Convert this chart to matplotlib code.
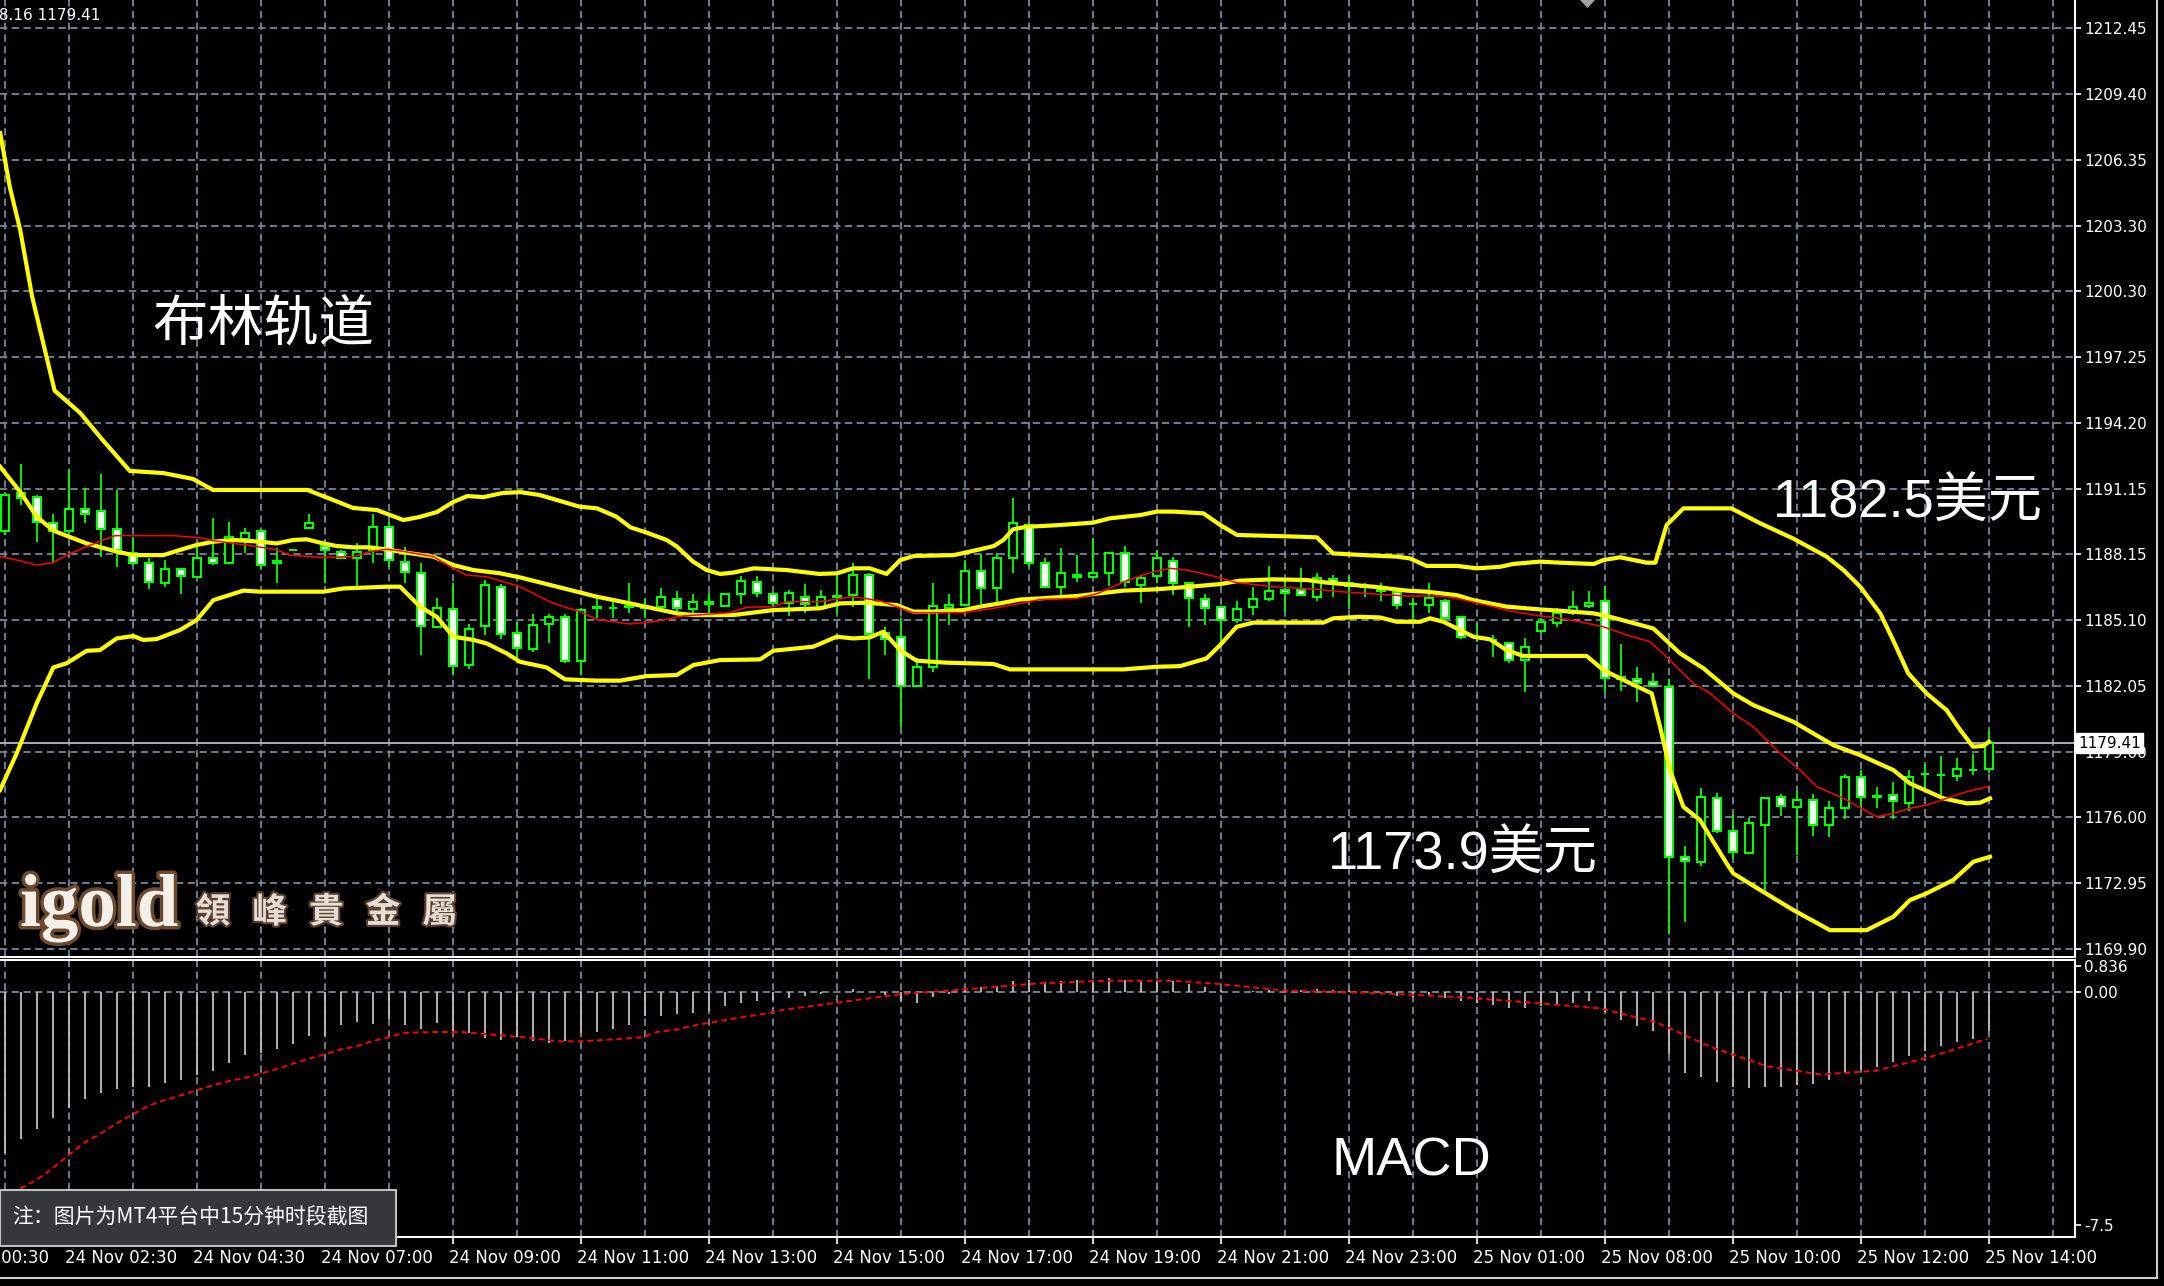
"""
XAUUSD M15 chart with Bollinger bands and MACD (MT4 style screenshot)
"""

import matplotlib
matplotlib.use('Agg')
import matplotlib.pyplot as plt
import matplotlib.patheffects as pe
from matplotlib import transforms
from matplotlib.patches import Rectangle, Polygon
import numpy as np

# ---- candles (15 min bars) ----
opens = [
    1189.23, 1190.95, 1190.77, 1189.60, 1189.23, 1190.21, 1190.15, 1189.31, 1188.18, 1187.72,
    1186.83, 1187.44, 1187.10, 1187.95, 1187.75, 1188.83, 1189.23, 1187.75, 1188.32, 1189.34,
    1188.52, 1188.26, 1187.95, 1188.34, 1189.38, 1187.80, 1187.26, 1184.79, 1185.59, 1183.02,
    1184.82, 1186.64, 1184.51, 1183.74, 1184.90, 1185.25, 1183.22, 1185.64, 1185.67, 1185.72,
    1185.67, 1185.72, 1186.05, 1185.59, 1185.95, 1185.76, 1186.31, 1186.87, 1186.31, 1185.90,
    1186.15, 1185.72, 1186.18, 1186.25, 1187.18, 1184.48, 1184.30, 1182.05, 1182.94, 1185.64,
    1185.79, 1187.36, 1186.56, 1187.95, 1189.49, 1187.75, 1186.64, 1187.10, 1187.10, 1187.29,
    1188.18, 1186.72, 1187.13, 1187.84, 1186.79, 1186.05, 1185.72, 1185.10, 1185.69, 1186.05,
    1186.49, 1186.49, 1186.18, 1186.98, 1186.83, 1186.64, 1186.64, 1186.41, 1185.84, 1185.79,
    1185.99, 1185.22, 1184.25, 1184.18, 1184.05, 1183.25, 1184.61, 1184.95, 1185.44, 1185.75,
    1185.99, 1182.45, 1182.36, 1182.25, 1182.02, 1174.16, 1173.93, 1176.86, 1175.36, 1174.35,
    1175.63, 1176.94, 1176.47, 1176.78, 1175.63, 1176.40, 1177.83, 1176.94, 1177.01, 1176.66,
    1177.98, 1177.94, 1177.89, 1178.17, 1178.20]
highs = [
    1190.98, 1192.31, 1190.88, 1190.00, 1192.03, 1191.19, 1191.85, 1191.11, 1188.95, 1187.95,
    1187.87, 1187.49, 1188.49, 1189.80, 1189.64, 1189.34, 1189.29, 1188.41, 1188.36, 1190.00,
    1188.80, 1188.34, 1188.67, 1190.00, 1189.64, 1188.49, 1187.72, 1186.10, 1186.83, 1184.92,
    1186.95, 1186.76, 1185.02, 1185.38, 1185.38, 1185.38, 1185.64, 1186.18, 1186.02, 1186.83,
    1186.05, 1186.56, 1186.46, 1186.30, 1186.34, 1186.34, 1187.13, 1187.13, 1186.41, 1186.49,
    1186.76, 1186.49, 1187.13, 1187.75, 1187.29, 1184.79, 1185.18, 1183.33, 1186.83, 1186.30,
    1187.87, 1188.15, 1188.21, 1190.72, 1189.64, 1187.95, 1188.41, 1188.10, 1188.87, 1188.26,
    1188.52, 1187.18, 1188.34, 1188.03, 1186.83, 1186.30, 1185.75, 1185.99, 1186.61, 1187.60,
    1186.95, 1187.49, 1187.29, 1187.18, 1187.13, 1186.83, 1186.83, 1186.49, 1186.05, 1186.83,
    1186.05, 1185.29, 1184.98, 1184.41, 1184.10, 1184.25, 1185.18, 1185.64, 1186.46, 1186.46,
    1186.67, 1183.99, 1182.94, 1182.67, 1182.36, 1174.66, 1177.32, 1177.12, 1176.14, 1175.94,
    1176.86, 1177.06, 1177.21, 1177.06, 1176.75, 1177.98, 1178.17, 1177.37, 1177.63, 1178.17,
    1178.45, 1178.82, 1178.71, 1178.91, 1179.99]
lows = [
    1189.03, 1190.41, 1188.72, 1187.80, 1189.11, 1189.57, 1188.00, 1187.53, 1187.64, 1186.52,
    1186.61, 1186.31, 1187.03, 1187.64, 1187.72, 1188.18, 1187.44, 1186.79, 1188.30, 1189.29,
    1186.79, 1187.90, 1186.67, 1187.72, 1187.56, 1186.79, 1183.48, 1184.71, 1182.56, 1182.82,
    1184.41, 1184.21, 1183.25, 1183.64, 1184.02, 1183.10, 1182.56, 1185.18, 1185.18, 1185.41,
    1185.18, 1185.49, 1185.33, 1185.33, 1185.33, 1185.72, 1185.84, 1186.15, 1185.72, 1185.29,
    1185.41, 1185.67, 1185.41, 1185.72, 1182.36, 1183.48, 1180.14, 1182.02, 1182.71, 1184.87,
    1185.75, 1185.84, 1185.90, 1187.26, 1187.56, 1186.61, 1186.18, 1186.87, 1187.07, 1186.67,
    1186.61, 1185.87, 1186.79, 1186.25, 1184.76, 1184.87, 1183.87, 1184.98, 1185.33, 1185.99,
    1185.49, 1186.21, 1185.99, 1186.18, 1185.59, 1186.18, 1185.99, 1185.59, 1185.10, 1185.41,
    1185.13, 1184.21, 1184.10, 1183.37, 1183.10, 1181.79, 1184.48, 1184.79, 1185.33, 1185.64,
    1181.79, 1181.83, 1181.33, 1181.99, 1170.59, 1171.16, 1173.73, 1175.24, 1174.04, 1174.32,
    1172.55, 1176.04, 1174.24, 1175.12, 1175.06, 1175.89, 1176.40, 1176.40, 1175.89, 1176.29,
    1177.32, 1177.01, 1177.68, 1177.94, 1178.01]
closes = [
    1190.88, 1190.72, 1189.64, 1189.23, 1190.23, 1190.00, 1189.31, 1188.34, 1187.75, 1186.84,
    1187.44, 1187.13, 1187.95, 1187.75, 1188.95, 1189.11, 1187.64, 1187.84, 1188.34, 1189.57,
    1188.34, 1187.95, 1188.26, 1189.41, 1187.87, 1187.33, 1184.82, 1185.64, 1182.97, 1184.67,
    1186.72, 1184.45, 1183.79, 1184.87, 1185.25, 1183.22, 1185.56, 1185.70, 1185.64, 1185.74,
    1185.69, 1186.18, 1185.64, 1185.95, 1185.82, 1186.30, 1186.92, 1186.34, 1185.90, 1186.34,
    1185.84, 1186.18, 1186.20, 1187.18, 1184.45, 1184.21, 1182.05, 1182.94, 1185.75, 1185.79,
    1187.38, 1186.56, 1187.95, 1189.60, 1187.75, 1186.64, 1187.29, 1187.18, 1187.29, 1188.21,
    1186.87, 1187.03, 1187.95, 1186.83, 1186.10, 1185.64, 1185.10, 1185.59, 1186.05, 1186.46,
    1186.34, 1186.25, 1187.03, 1186.83, 1186.67, 1186.66, 1186.46, 1185.79, 1185.86, 1186.10,
    1185.18, 1184.33, 1184.27, 1184.20, 1183.25, 1183.84, 1185.02, 1185.44, 1185.69, 1185.90,
    1182.40, 1182.36, 1182.20, 1182.05, 1174.16, 1173.98, 1176.94, 1175.36, 1174.39, 1175.73,
    1176.86, 1176.51, 1176.78, 1175.63, 1176.40, 1177.86, 1176.94, 1176.96, 1176.75, 1177.86,
    1178.00, 1177.96, 1178.20, 1178.19, 1179.41]

# ---- indicator lines: (bar index, value) ----
upper_band = [
    (-0.3, 1207.60), (0.3, 1205.11), (0.95, 1203.12), (1.7, 1200.03), (3.1, 1195.70), (4.7, 1194.67),
    (6.1, 1193.42), (7.8, 1191.99), (9.9, 1191.89), (11.75, 1191.62), (13.0, 1191.11), (18.9, 1191.11),
    (20.5, 1190.65), (21.75, 1190.28), (23.25, 1190.18), (24.9, 1189.72), (25.9, 1189.86), (27.0, 1190.09),
    (28.0, 1190.55), (28.9, 1190.83), (29.9, 1190.78), (31.1, 1190.97), (32.2, 1191.01), (33.4, 1190.88),
    (35.9, 1190.34), (37.0, 1190.26), (38.2, 1189.88), (39.1, 1189.38), (40.1, 1189.14), (41.35, 1188.80),
    (42.0, 1188.49), (43.0, 1187.80), (43.85, 1187.41), (44.7, 1187.23), (45.5, 1187.29), (46.8, 1187.49),
    (48.85, 1187.41), (50.9, 1187.23), (52.0, 1187.26), (53.0, 1187.49), (54.05, 1187.49), (55.1, 1187.23),
    (55.95, 1187.87), (56.8, 1188.06), (59.3, 1188.10), (60.95, 1188.37), (61.8, 1188.52), (62.4, 1188.80),
    (63.0, 1189.29), (63.85, 1189.41), (64.7, 1189.44), (65.95, 1189.49), (68.0, 1189.60), (69.05, 1189.80),
    (70.95, 1189.95), (72.0, 1190.11), (73.0, 1190.11), (74.9, 1190.03), (75.95, 1189.49), (77.0, 1189.03),
    (80.95, 1188.95), (82.0, 1188.92), (83.0, 1188.18), (84.9, 1188.10), (87.0, 1188.03), (87.8, 1187.95),
    (88.85, 1187.60), (90.75, 1187.60), (92.0, 1187.49), (93.45, 1187.56), (94.25, 1187.69), (95.95, 1187.80),
    (97.2, 1187.75), (99.3, 1187.69), (99.9, 1187.87), (100.95, 1188.00), (102.6, 1187.75), (103.15, 1187.75),
    (103.85, 1189.49), (104.9, 1190.26), (107.9, 1190.26), (109.7, 1189.57), (111.75, 1188.87),
    (113.85, 1188.03), (114.9, 1187.41), (115.95, 1186.64), (117.2, 1185.41), (118.0, 1184.18),
    (118.95, 1182.64), (120.1, 1181.71), (121.35, 1180.94), (122.2, 1180.02), (123.0, 1179.25),
    (123.65, 1179.28), (124.0, 1179.48)]
middle_band = [
    (-0.31, 1192.19), (0.94, 1191.03), (1.98, 1189.88), (3.02, 1189.23), (5.10, 1188.64), (6.98, 1188.26),
    (8.02, 1188.10), (9.90, 1188.10), (10.94, 1188.34), (11.98, 1188.57), (13.02, 1188.72), (14.27, 1188.80),
    (15.94, 1188.72), (16.98, 1188.64), (18.02, 1188.80), (18.85, 1188.83), (19.90, 1188.64), (20.73, 1188.52),
    (21.77, 1188.46), (22.81, 1188.46), (24.06, 1188.34), (25.10, 1188.21), (26.77, 1188.03), (28.02, 1187.64),
    (29.27, 1187.41), (30.94, 1187.26), (32.19, 1187.07), (36.98, 1186.18), (39.06, 1185.87), (41.98, 1185.41),
    (43.02, 1185.33), (45.52, 1185.33), (48.02, 1185.56), (50.94, 1185.64), (52.19, 1185.87), (53.85, 1185.90),
    (55.73, 1185.79), (56.77, 1185.49), (58.02, 1185.49), (59.9, 1185.56), (60.94, 1185.72), (62.19, 1185.87),
    (63.44, 1186.05), (64.69, 1186.10), (66.98, 1186.21), (69.9, 1186.46), (71.98, 1186.52), (74.06, 1186.64),
    (75.94, 1186.76), (77.19, 1186.92), (79.27, 1186.98), (81.35, 1186.95), (82.6, 1186.83), (85.52, 1186.64),
    (87.6, 1186.46), (88.85, 1186.41), (90.73, 1186.25), (91.77, 1186.02), (93.85, 1185.72), (95.94, 1185.59),
    (97.19, 1185.53), (99.27, 1185.41), (100.31, 1185.25), (103.02, 1184.71), (104.69, 1183.56),
    (106.15, 1182.87), (108.02, 1181.71), (109.27, 1181.17), (111.77, 1180.40), (114.27, 1179.32),
    (115.94, 1178.86), (118.02, 1178.17), (119.06, 1177.55), (121.15, 1176.86), (122.6, 1176.63),
    (123.44, 1176.66), (124.06, 1176.86)]
lower_band = [
    (-0.31, 1177.24), (0.73, 1178.94), (1.98, 1181.25), (3.02, 1182.91), (3.85, 1183.10), (5.10, 1183.68),
    (5.94, 1183.71), (6.98, 1184.25), (8.02, 1184.36), (8.65, 1184.18), (9.48, 1184.22), (10.94, 1184.64),
    (11.98, 1185.10), (13.02, 1186.02), (14.90, 1186.46), (15.94, 1186.41), (19.90, 1186.41), (21.15, 1186.56),
    (23.85, 1186.64), (24.69, 1186.64), (25.94, 1185.72), (26.98, 1185.25), (28.02, 1184.33), (29.27, 1184.18),
    (30.10, 1184.02), (31.35, 1183.56), (32.19, 1183.17), (33.85, 1182.91), (35.0, 1182.36), (36.98, 1182.30),
    (38.44, 1182.30), (40.1, 1182.51), (41.98, 1182.56), (43.02, 1183.02), (44.69, 1183.25), (47.19, 1183.28),
    (48.02, 1183.68), (50.52, 1183.87), (51.98, 1184.33), (53.02, 1184.25), (54.06, 1184.30), (54.9, 1184.56),
    (55.94, 1183.71), (56.98, 1183.22), (58.85, 1183.13), (61.77, 1183.07), (62.81, 1182.82), (64.69, 1182.82),
    (69.9, 1182.82), (71.98, 1182.94), (73.44, 1182.97), (75.1, 1183.33), (75.94, 1183.94), (76.98, 1184.79),
    (78.02, 1184.98), (82.4, 1184.98), (83.02, 1185.18), (84.69, 1185.25), (85.94, 1185.22), (86.98, 1185.02),
    (88.44, 1185.02), (89.06, 1185.18), (89.9, 1185.02), (90.94, 1184.64), (91.77, 1184.33), (92.81, 1184.21),
    (93.85, 1183.71), (94.9, 1183.44), (98.85, 1183.44), (99.9, 1182.79), (101.15, 1182.33),
    (102.92, 1181.71), (103.44, 1180.17), (104.06, 1178.17), (104.9, 1176.47), (105.94, 1175.86),
    (107.6, 1173.86), (108.02, 1173.39), (109.69, 1172.63), (111.77, 1171.70), (114.06, 1170.77),
    (116.35, 1170.77), (117.4, 1171.16), (118.02, 1171.39), (119.06, 1172.16), (120.1, 1172.47),
    (121.77, 1173.09), (123.02, 1173.93), (124.06, 1174.16)]
red_ma = [
    (-0.31, 1188.03), (0.94, 1187.84), (1.98, 1187.64), (3.02, 1187.75), (3.85, 1188.10), (5.10, 1188.49),
    (6.15, 1188.80), (6.88, 1189.00), (10.52, 1189.00), (12.19, 1188.90), (13.02, 1188.77), (14.27, 1188.64),
    (15.52, 1188.52), (16.98, 1188.34), (17.81, 1188.10), (19.69, 1188.00), (21.77, 1188.03), (22.81, 1188.26),
    (23.85, 1188.37), (24.69, 1188.30), (26.77, 1188.03), (28.02, 1187.49), (28.85, 1187.18), (30.10, 1187.10),
    (31.15, 1186.87), (32.19, 1186.64), (34.27, 1185.87), (35.94, 1185.49), (36.98, 1185.13), (39.06, 1184.92),
    (40.52, 1185.02), (42.4, 1185.29), (45.3, 1185.44), (46.35, 1185.69), (48.02, 1185.72), (48.85, 1185.95),
    (50.94, 1185.95), (53.02, 1186.18), (54.69, 1185.99), (56.77, 1185.44), (59.9, 1185.44), (62.19, 1185.69),
    (64.69, 1186.05), (66.98, 1186.10), (68.23, 1186.31), (70.1, 1186.92), (71.56, 1187.29), (72.81, 1187.49),
    (73.85, 1187.41), (75.52, 1187.13), (76.98, 1186.83), (79.27, 1186.64), (81.98, 1186.52), (83.44, 1186.41),
    (85.52, 1186.31), (87.6, 1186.21), (89.69, 1186.21), (90.73, 1186.10), (92.81, 1185.75), (94.27, 1185.49),
    (95.94, 1185.29), (97.19, 1185.18), (98.44, 1185.02), (99.9, 1184.79), (101.35, 1184.41),
    (102.81, 1184.10), (104.06, 1183.25), (105.52, 1182.17), (106.56, 1181.71), (108.02, 1180.79),
    (109.27, 1180.17), (110.73, 1179.09), (112.19, 1178.17), (113.23, 1177.40), (114.9, 1176.86),
    (116.98, 1176.01), (118.02, 1176.17), (119.06, 1176.40), (120.1, 1176.55), (121.35, 1176.86),
    (122.6, 1177.17), (123.96, 1177.40)]

# ---- MACD ----
macd_hist = [
    -5.18, -4.72, -4.40, -4.07, -3.75, -3.43, -3.25, -3.11, -3.06, -3.06,
    -2.93, -2.85, -2.66, -2.53, -2.28, -2.02, -1.96, -1.82, -1.69, -1.43,
    -1.43, -1.05, -0.97, -1.03, -0.86, -1.05, -1.18, -1.00, -1.27, -1.32,
    -1.48, -1.56, -1.46, -1.59, -1.64, -1.59, -1.32, -1.29, -1.18, -1.05,
    -0.78, -0.78, -0.71, -0.68, -0.62, -0.46, -0.35, -0.30, -0.25, -0.19,
    -0.12, -0.06, 0.00, 0.10, 0.00, -0.10, -0.30, -0.35, -0.15, -0.05,
    0.10, 0.15, 0.20, 0.35, 0.38, 0.33, 0.35, 0.37, 0.40, 0.45,
    0.40, 0.35, 0.38, 0.35, 0.25, 0.15, 0.05, 0.00, 0.02, 0.05,
    0.05, 0.06, 0.10, 0.08, 0.05, 0.00, -0.05, -0.12, -0.15, -0.12,
    -0.20, -0.30, -0.35, -0.42, -0.50, -0.50, -0.45, -0.40, -0.35, -0.30,
    -0.65, -0.90, -1.10, -1.25, -2.00, -2.60, -2.75, -2.90, -3.05, -3.10,
    -3.05, -3.05, -3.00, -2.95, -2.85, -2.60, -2.50, -2.40, -2.25, -2.05,
    -1.90, -1.75, -1.60, -1.50, -1.25]
macd_signal = [
    (0.96, -6.33), (1.91, -6.07), (2.87, -5.72), (3.82, -5.32), (4.94, -4.86), (6.05, -4.54),
    (7.0, -4.22), (7.96, -3.95), (8.91, -3.68), (9.86, -3.50), (10.82, -3.36), (11.93, -3.17),
    (13.04, -3.00), (14.0, -2.87), (14.96, -2.77), (15.9, -2.64), (16.86, -2.50), (17.8, -2.34),
    (18.77, -2.18), (19.9, -2.02), (21.0, -1.85), (21.95, -1.75), (22.9, -1.59), (24.0, -1.46),
    (24.8, -1.32), (26.7, -1.29), (28.6, -1.29), (29.9, -1.35), (31.8, -1.43), (33.1, -1.50),
    (34.7, -1.59), (35.9, -1.59), (37.9, -1.53), (39.8, -1.46), (40.7, -1.29), (42.0, -1.21),
    (42.9, -1.10), (43.9, -1.00), (45.2, -0.89), (46.1, -0.81), (47.4, -0.71), (48.7, -0.57),
    (49.6, -0.51), (55.8, -0.08), (60.1, 0.09), (64.4, 0.27), (68.7, 0.36), (73.0, 0.36),
    (75.6, 0.27), (79.9, 0.05), (85.9, -0.04), (91.1, -0.17), (94.6, -0.31), (99.7, -0.53),
    (103.2, -0.97), (106.6, -1.77), (110.1, -2.39), (113.5, -2.66), (117.0, -2.53), (120.4, -2.08),
    (123.9, -1.51)]

# ---- axes labels ----
price_ticks = [1212.45, 1209.40, 1206.35, 1203.30, 1200.30, 1197.25, 1194.20, 1191.15,
               1188.15, 1185.10, 1182.05, 1179.00, 1176.00, 1172.95, 1169.90]
macd_ticks = [0.836, 0.0, -7.5]
macd_tick_labels = ['0.836', '0.00', '-7.5']
time_labels = ['24 Nov 00:30', '24 Nov 02:30', '24 Nov 04:30', '24 Nov 07:00', '24 Nov 09:00',
               '24 Nov 11:00', '24 Nov 13:00', '24 Nov 15:00', '24 Nov 17:00', '24 Nov 19:00',
               '24 Nov 21:00', '24 Nov 23:00', '25 Nov 01:00', '25 Nov 08:00', '25 Nov 10:00',
               '25 Nov 12:00', '25 Nov 14:00']
time_label_bars = list(range(-4, 125, 8))
last_price = 1179.41

W, H = 2164, 1286


def fx(px):
    return px / W


def fy(py):
    return 1 - py / H


fig = plt.figure(figsize=(W / 100, H / 100), dpi=100, facecolor='black')
ax = fig.add_axes([0, fy(957), fx(2075), 957 / H])
axm = fig.add_axes([0, fy(1237), fx(2075), (1237 - 960) / H])

GRID = dict(color='#778899', lw=1.3, linestyle=(0, (4, 2.5)), zorder=0)
for a in (ax, axm):
    a.set_facecolor('black')
    a.set_xlim(-0.3125, 129.375)
    for x in range(0, 129, 4):
        a.axvline(x, **GRID)
    for side in ('left', 'top'):
        a.spines[side].set_visible(False)
    for side in ('right', 'bottom'):
        a.spines[side].set_color('white')
        a.spines[side].set_linewidth(1.5)
axm.spines['top'].set_visible(True)
axm.spines['top'].set_color('white')
axm.spines['top'].set_linewidth(1.5)

# Plot 1: price panel
ax.set_ylim(1169.53, 1213.75)
for p in price_ticks:
    ax.axhline(p, **GRID)
ax.axhline(last_price, color='#a8b0b8', lw=1.4, zorder=1)

idx = np.arange(len(closes))
o, h, l, c = (np.array(v) for v in (opens, highs, lows, closes))
ax.vlines(idx, l, h, color='#00ff00', lw=1.3, zorder=2)
fill = np.where(c < o, 'white', 'black')
ax.bar(idx, np.abs(c - o), bottom=np.minimum(o, c), width=0.5, color=fill,
       edgecolor='#00ff00', linewidth=1.5, zorder=3)

for band in (upper_band, middle_band, lower_band):
    ax.plot(*zip(*band), color='#ffff00', lw=3.0, zorder=4, solid_joinstyle='round')
ax.plot(*zip(*red_ma), color='#ff0000', lw=1.1, zorder=5)

ax.yaxis.tick_right()
ax.set_yticks(price_ticks)
ax.set_yticklabels([f'{p:.2f}' for p in price_ticks])
ax.tick_params(axis='y', colors='white', direction='out', length=4, width=1.2, pad=2.5, labelsize=11)
ax.tick_params(axis='x', bottom=False, labelbottom=False)

blend = transforms.blended_transform_factory(ax.transAxes, ax.transData)
ax.text(1.0015, last_price, f'{last_price:.2f}', transform=blend, ha='left', va='center',
        fontsize=11, color='black', zorder=10, clip_on=False,
        bbox=dict(boxstyle='square,pad=0.15', fc='white', ec='white'))

# Plot 2: MACD panel
axm.set_ylim(-7.89, 1.03)
axm.axhline(0, **GRID)
axm.vlines(idx, 0, macd_hist, color='#c0c0c0', lw=1.3, zorder=2)
axm.plot(*zip(*macd_signal), color='#ff0000', lw=1.4, linestyle=(0, (3, 2)), zorder=3)
axm.yaxis.tick_right()
axm.set_yticks(macd_ticks)
axm.set_yticklabels(macd_tick_labels)
axm.tick_params(axis='y', colors='white', direction='out', length=4, width=1.2, pad=2.5, labelsize=11)
axm.set_xticks(time_label_bars[1:])
axm.set_xticklabels([])
axm.tick_params(axis='x', colors='white', direction='out', length=5, width=1.2)

tblend = transforms.blended_transform_factory(axm.transData, axm.transAxes)
for pos, lab in zip(time_label_bars, time_labels):
    axm.text(pos - 0.25, -0.076, lab, transform=tblend, ha='left', va='center',
             fontsize=12, color='white', clip_on=False)

# annotations
fig.text(fx(100), fy(15), '1178.16 1179.41', ha='right', va='center', fontsize=11, color='white')
fig.text(fx(152), fy(325), '布林轨道', fontsize=40, color='white',
         family=['Noto Sans CJK SC'], va='center', ha='left')
num_font = ['Liberation Sans', 'Noto Sans CJK SC']
fig.text(fx(1773), fy(503), '1182.5美元', fontsize=39, color='white', family=num_font, va='center')
fig.text(fx(1328), fy(855), '1173.9美元', fontsize=39, color='white', family=num_font, va='center')
fig.text(fx(1332), fy(1162), 'MACD', fontsize=39, color='white', family=num_font, va='center')

# logo
glow = [pe.withStroke(linewidth=5, foreground='#6b4a2e')]
fig.text(fx(20), fy(926), 'igold', fontsize=54, color='#f4efe8', family='Liberation Serif',
         weight='bold', va='baseline', path_effects=glow)
for k, ch in enumerate('領峰貴金屬'):
    fig.text(fx(213 + 56.7 * k), fy(912), ch, fontsize=25, color='#e6ddd5', weight='bold',
             family=['Noto Sans CJK TC'], ha='center', va='center',
             path_effects=[pe.withStroke(linewidth=3, foreground='#5c4030')])

# note box
fig.add_artist(Rectangle((0, fy(1246)), fx(396), (1246 - 1190) / H, transform=fig.transFigure,
                         fc='#35373b', ec='#c0c0c0', lw=1.5, zorder=5))
fig.text(fx(12), fy(1218), '注：图片为MT4平台中15分钟时段截图', fontsize=15, color='white',
         family=['Noto Sans CJK SC', 'DejaVu Sans'], va='center', zorder=6)

# window frame and shift marker
fig.add_artist(plt.Line2D([fx(2157), fx(2157)], [fy(0), fy(1278)], transform=fig.transFigure,
                          color='#cfcfcf', lw=1.5))
fig.add_artist(plt.Line2D([0, fx(2157)], [fy(1278), fy(1278)], transform=fig.transFigure,
                          color='#cfcfcf', lw=1.5))
fig.add_artist(Polygon([[fx(1580), fy(0)], [fx(1595), fy(0)], [fx(1587.5), fy(8)]], closed=True,
                       transform=fig.transFigure, fc='#a0a0a0', ec='none', zorder=6))

fig.savefig('out.png', dpi=100, facecolor='black')
